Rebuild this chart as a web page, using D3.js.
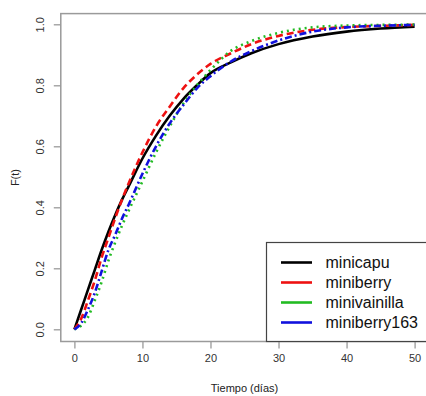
<!DOCTYPE html>
<html>
<head>
<meta charset="utf-8">
<script src="https://cdn.jsdelivr.net/npm/d3@7"></script>
<style>
  body { margin: 0; background: #fff; }
  svg { display: block; font-family: "Liberation Sans", Arial, sans-serif; }
</style>
</head>
<body>
<div id="chart"></div>
<script>
const tiempo = [0, 1, 2, 3, 4, 5, 6, 7, 8, 10, 12, 14, 16, 18, 20, 23, 26, 30, 35, 40, 45, 50];

// F(t) for each product
const minicapu     = [0, 0.065, 0.13, 0.195, 0.26, 0.32, 0.375, 0.425, 0.47, 0.56, 0.635, 0.70, 0.755, 0.80, 0.84, 0.875, 0.905, 0.935, 0.96, 0.976, 0.986, 0.992];
const miniberry    = [0, 0.035, 0.095, 0.16, 0.235, 0.30, 0.365, 0.425, 0.48, 0.58, 0.665, 0.73, 0.79, 0.835, 0.87, 0.905, 0.935, 0.962, 0.982, 0.991, 0.995, 0.998];
const minivainilla = [0, 0.012, 0.04, 0.095, 0.155, 0.225, 0.285, 0.34, 0.39, 0.485, 0.58, 0.665, 0.74, 0.80, 0.85, 0.913, 0.945, 0.972, 0.99, 0.996, 0.998, 0.999];
const miniberry163 = [0, 0.02, 0.065, 0.12, 0.19, 0.26, 0.31, 0.363, 0.41, 0.51, 0.60, 0.675, 0.735, 0.79, 0.83, 0.878, 0.912, 0.947, 0.976, 0.99, 0.995, 0.998];

const seriesNames = ["minicapu", "miniberry", "minivainilla", "miniberry163"];
const seriesValues = [minicapu, miniberry, minivainilla, miniberry163];
const seriesColors = ["#000000", "#ee1111", "#22bb22", "#1111dd"];
const seriesDash = [null, "7,4", "2,4", "7,3,2,3"];

const xTicks = [0, 10, 20, 30, 40, 50];
const yTicks = [0, 0.2, 0.4, 0.6, 0.8, 1.0];

const width = 426;
const height = 396;

const svg = d3.select("#chart")
    .append("svg")
    .attr("width", width)
    .attr("height", height);

// R style ranges: data range widened by 4% on each side
const x = d3.scaleLinear().domain([0, 50]).range([74.4, 414.6]);
const y = d3.scaleLinear().domain([0, 1]).range([329.3, 24.3]);

const boxLeft = x(-2), boxRight = x(52), boxTop = y(1.04) + 1.5, boxBottom = y(-0.04);

// Curves
const line = d3.line()
    .x((d, i) => x(tiempo[i]))
    .y(d => y(d))
    .curve(d3.curveMonotoneX);

seriesValues.forEach((vals, k) => {
    svg.append("path")
        .datum(vals)
        .attr("fill", "none")
        .attr("stroke", seriesColors[k])
        .attr("stroke-width", 2.6)
        .attr("stroke-dasharray", seriesDash[k])
        .attr("d", line);
});

// Plot box
svg.append("rect")
    .attr("x", boxLeft)
    .attr("y", boxTop)
    .attr("width", boxRight - boxLeft)
    .attr("height", boxBottom - boxTop)
    .attr("fill", "none")
    .attr("stroke", "#9a9a9a")
    .attr("stroke-width", 1.5);

// Axes
const xAxis = d3.axisBottom(x).tickValues(xTicks).tickSize(7).tickPadding(6).tickFormat(d3.format("d"));
const gx = svg.append("g")
    .attr("transform", `translate(0,${boxBottom})`)
    .call(xAxis);
gx.select(".domain").remove();
gx.selectAll("line").attr("stroke", "#9a9a9a").attr("stroke-width", 1.3);
gx.selectAll("text").attr("fill", "#333").style("font-size", "11px");

const yAxis = d3.axisLeft(y).tickValues(yTicks).tickSize(7).tickFormat(d3.format(".1f"));
const gy = svg.append("g")
    .attr("transform", `translate(${boxLeft},0)`)
    .call(yAxis);
gy.select(".domain").remove();
gy.selectAll("line").attr("stroke", "#9a9a9a").attr("stroke-width", 1.3);
gy.selectAll("text")
    .attr("fill", "#333")
    .style("font-size", "11px")
    .attr("x", null)
    .attr("dy", null)
    .attr("text-anchor", "middle")
    .attr("transform", "translate(-17,0) rotate(-90)");

// Axis titles
svg.append("text")
    .attr("x", (boxLeft + boxRight) / 2)
    .attr("y", 392)
    .attr("text-anchor", "middle")
    .attr("fill", "#222")
    .style("font-size", "11px")
    .text("Tiempo (días)");

svg.append("text")
    .attr("transform", `translate(19,${(boxTop + boxBottom) / 2}) rotate(-90)`)
    .attr("text-anchor", "middle")
    .attr("fill", "#222")
    .style("font-size", "11px")
    .text("F(t)");

// Legend, bottom right
const legend = svg.append("g");
legend.append("rect")
    .attr("x", 266.5)
    .attr("y", 242.5)
    .attr("width", boxRight - 266.5)
    .attr("height", boxBottom - 242.5)
    .attr("fill", "#fff")
    .attr("stroke", "#444")
    .attr("stroke-width", 1.2);

seriesNames.forEach((name, k) => {
    const ly = 262.5 + k * 20;
    legend.append("line")
        .attr("x1", 281).attr("x2", 312)
        .attr("y1", ly).attr("y2", ly)
        .attr("stroke", seriesColors[k])
        .attr("stroke-width", 2.6);
    legend.append("text")
        .attr("x", 325.5)
        .attr("y", ly)
        .attr("dy", "0.35em")
        .attr("fill", "#111")
        .style("font-size", "16px")
        .text(name);
});
</script>
</body>
</html>
